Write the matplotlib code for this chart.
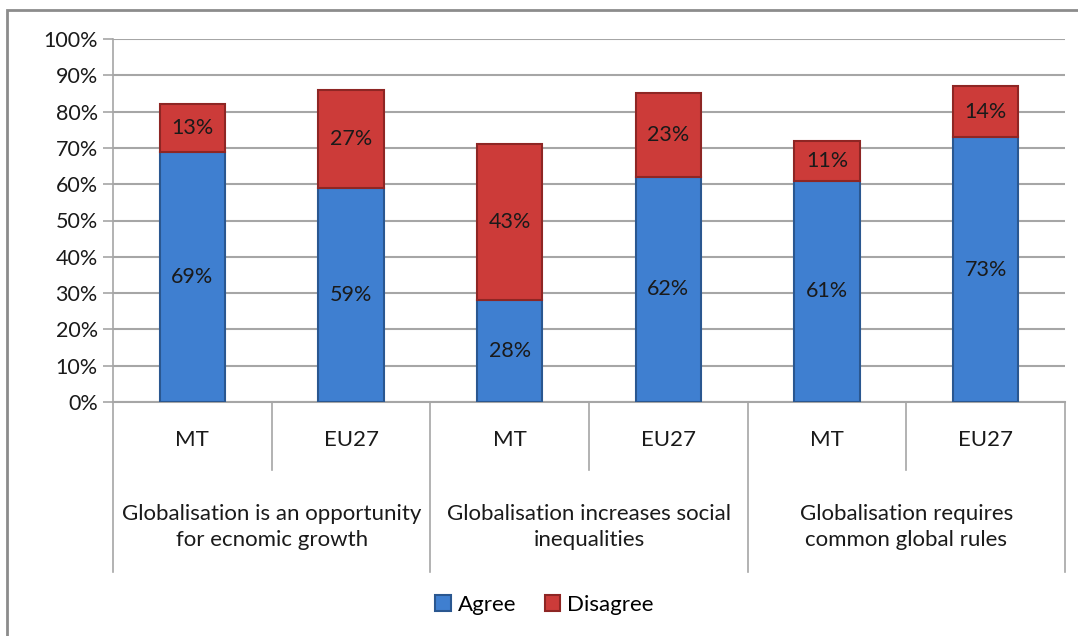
#!/usr/bin/env python3
"""Stacked bars: attitudes to globalisation, MT vs EU27"""

import matplotlib
matplotlib.use("Agg")
import matplotlib.pyplot as plt
import matplotlib.transforms as mtransforms
from matplotlib.patches import Rectangle
import numpy as np

# Data
countries = ['MT', 'EU27', 'MT', 'EU27', 'MT', 'EU27']
groups = ['Globalisation is an opportunity\nfor ecnomic growth',
          'Globalisation increases social\ninequalities',
          'Globalisation requires\ncommon global rules']
agree = [69, 59, 28, 62, 61, 73]
disagree = [13, 27, 43, 23, 11, 14]
series_names = ['Agree', 'Disagree']

plt.rcParams['font.family'] = ['Lato', 'DejaVu Sans']

colors = {'Agree': '#3f7fd0', 'Disagree': '#cc3b39'}
edges = {'Agree': '#2a5790', 'Disagree': '#8e2624'}
text_color = '#1a1a1a'
grid_color = '#a6a6a6'

fig = plt.figure(figsize=(10.78, 6.36), dpi=100)
ax = fig.add_axes([113 / 1078, 1 - 402 / 636, 952 / 1078, 363 / 636])

x = np.arange(len(countries))
width = 0.41

bars_a = ax.bar(x, agree, width, color=colors['Agree'], edgecolor=edges['Agree'],
                linewidth=1.5, label=series_names[0], zorder=3)
bars_d = ax.bar(x, disagree, width, bottom=agree, color=colors['Disagree'],
                edgecolor=edges['Disagree'], linewidth=1.5, label=series_names[1], zorder=3)

# Value labels in the middle of each segment
for i in range(len(x)):
    ax.text(x[i], agree[i] / 2, f'{agree[i]}%', ha='center', va='center',
            fontsize=15.5, color=text_color, zorder=4)
    ax.text(x[i], agree[i] + disagree[i] / 2, f'{disagree[i]}%', ha='center', va='center',
            fontsize=15.5, color=text_color, zorder=4)

ax.set_xlim(-0.5, len(x) - 0.5)
ax.set_ylim(0, 100)
ax.set_yticks(np.arange(0, 101, 10))
ax.set_yticklabels([f'{v}%' for v in range(0, 101, 10)], fontsize=15.5, color=text_color)
ax.set_xticks([])

ax.grid(axis='y', color=grid_color, linewidth=1.5, zorder=0)
ax.set_axisbelow(True)
for side in ['top', 'right']:
    ax.spines[side].set_visible(False)
ax.spines['left'].set_color(grid_color)
ax.spines['bottom'].set_color(grid_color)
ax.spines['left'].set_linewidth(1.2)
ax.spines['bottom'].set_linewidth(1.5)
ax.tick_params(axis='y', length=7, color=grid_color, width=1.2, pad=4)

# Category axis: separators and labels below the plot
trans = mtransforms.blended_transform_factory(ax.transData, ax.transAxes)
for i in range(len(x) + 1):
    xs = i - 0.5
    bottom = -0.468 if i % 2 == 0 else -0.187
    ax.plot([xs, xs], [0, bottom], color=grid_color, linewidth=1.2,
            transform=trans, clip_on=False)

for i, name in enumerate(countries):
    ax.text(x[i], -0.105, name, transform=trans, ha='center', va='center',
            fontsize=16, color=text_color)

for g, name in enumerate(groups):
    ax.text(2 * g + 0.5, -0.345, name, transform=trans, ha='center', va='center',
            fontsize=16, color=text_color, linespacing=1.4)

# Legend
fig.legend(handles=[bars_a, bars_d], labels=series_names, loc='center',
           bbox_to_anchor=(0.505, 1 - 605 / 636), ncol=2, frameon=False,
           fontsize=16, handlelength=0.7, handleheight=0.7, handletextpad=0.3,
           columnspacing=1.3)

# Outer chart frame
fig.patches.append(Rectangle((7 / 1078, -0.05), 1.2, 1.05 - 10 / 636,
                             transform=fig.transFigure, fill=False,
                             edgecolor='#8c8c8c', linewidth=2))

fig.savefig('out.png', dpi=100)
